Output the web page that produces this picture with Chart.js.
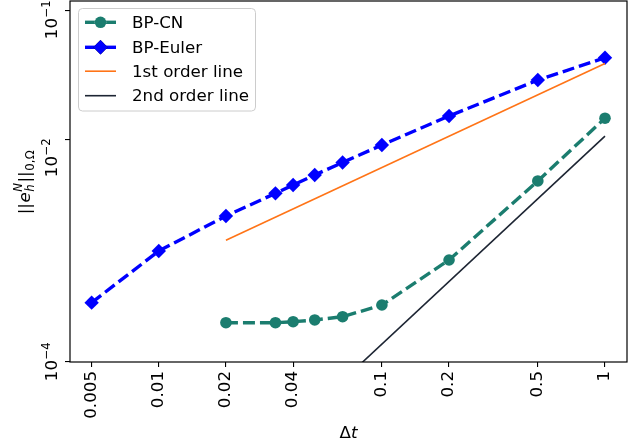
<!DOCTYPE html>
<html>
<head>
<meta charset="utf-8">
<title>Error vs time step</title>
<script src="https://cdn.jsdelivr.net/npm/chart.js@4.4.1/dist/chart.umd.min.js"></script>
<style>
  html, body { margin: 0; padding: 0; background: #ffffff; }
  #wrap { width: 644px; height: 447px; }
</style>
</head>
<body>
<div id="wrap"><canvas id="chart" width="644" height="447"></canvas></div>
<script>
// Time steps and errors of the two schemes
const dtEuler  = [0.005, 0.01, 0.02, 1/30, 0.04, 0.05, 1/15, 0.1, 0.2, 0.5, 1];
const errEuler = [2.73e-4, 8.57e-4, 1.86e-3, 3.07e-3, 3.69e-3, 4.61e-3, 6.08e-3, 8.95e-3, 1.70e-2, 3.77e-2, 6.18e-2];

const dtCN  = [0.02, 1/30, 0.04, 0.05, 1/15, 0.1, 0.2, 0.5, 1];
const errCN = [1.75e-4, 1.75e-4, 1.79e-4, 1.86e-4, 2.00e-4, 2.59e-4, 7.02e-4, 4.04e-3, 1.62e-2];

// Reference slopes (end points)
const dtRef     = [0.02, 1];
const firstRef  = [1.088e-3, 5.44e-2];
const secondRef = [4.36e-6, 1.09e-2];

// Axis ticks
const xTicks      = [0.005, 0.01, 0.02, 0.04, 0.1, 0.2, 0.5, 1];
const xTickLabels = ['0.005', '0.01', '0.02', '0.04', '0.1', '0.2', '0.5', '1'];
const yTicks      = [0.1739, 0.01, 7.335e-5];
const yTickExp    = ['\u22121', '\u22122', '\u22124'];

const FONT = "'DejaVu Sans', sans-serif";
const FS = 16.7;
const TEAL = '#1b7d6f';
const BLUE = '#0000ff';
const ORANGE = '#ff7417';
const DARK = '#1d2533';

const pts = (xs, ys) => xs.map((x, i) => ({ x: x, y: ys[i] }));

// Boxed axes outline
const framePlugin = {
  id: 'frame',
  afterDatasetsDraw(chart) {
    const { ctx, chartArea: a } = chart;
    ctx.save();
    ctx.strokeStyle = '#000';
    ctx.lineWidth = 1.2;
    ctx.strokeRect(a.left, a.top, a.right - a.left, a.bottom - a.top);
    ctx.restore();
  }
};

// Rotated power-of-ten labels on the y axis and the two axis titles
const textPlugin = {
  id: 'texts',
  afterDraw(chart) {
    const { ctx } = chart;
    ctx.save();
    ctx.fillStyle = '#000';
    ctx.textBaseline = 'alphabetic';
    const centers = [20, 158, 362];
    yTickExp.forEach((ex, i) => {
      ctx.save();
      ctx.translate(57, centers[i]);
      ctx.rotate(-Math.PI / 2);
      ctx.font = FS + 'px ' + FONT;
      const wBase = ctx.measureText('10').width;
      ctx.font = (FS * 0.7) + 'px ' + FONT;
      const wExp = ctx.measureText(ex).width;
      const start = -(wBase + wExp) / 2;
      ctx.font = FS + 'px ' + FONT;
      ctx.fillText('10', start, 0);
      ctx.font = (FS * 0.7) + 'px ' + FONT;
      ctx.fillText(ex, start + wBase + 0.5, -FS * 0.42);
      ctx.restore();
    });

    // x title: Δt
    ctx.font = FS + 'px ' + FONT;
    const wD = ctx.measureText('\u0394').width;
    ctx.font = 'italic ' + FS + 'px ' + FONT;
    const wT = ctx.measureText('t').width;
    const cx = (chart.chartArea.left + chart.chartArea.right) / 2;
    const x0 = cx - (wD + wT) / 2;
    ctx.font = FS + 'px ' + FONT;
    ctx.fillText('\u0394', x0, 438);
    ctx.font = 'italic ' + FS + 'px ' + FONT;
    ctx.fillText('t', x0 + wD, 438);

    // y title: ||e_h^N||_{0,Ω}
    ctx.save();
    ctx.translate(30, 182);
    ctx.rotate(-Math.PI / 2);
    const big = FS + 'px ' + FONT;
    const bigI = 'italic ' + FS + 'px ' + FONT;
    const sm = (FS * 0.7) + 'px ' + FONT;
    const smI = 'italic ' + (FS * 0.7) + 'px ' + FONT;
    const parts = [
      { t: '||', f: big, dy: 0 },
      { t: 'e', f: bigI, dy: 0 },
      { t: 'h', f: smI, dy: FS * 0.22, stackWith: { t: 'N', f: smI, dy: -FS * 0.45 } },
      { t: '||', f: big, dy: 0 },
      { t: '0,', f: sm, dy: FS * 0.22 },
      { t: '\u03A9', f: sm, dy: FS * 0.22 }
    ];
    let total = 0;
    const widths = parts.map(p => {
      ctx.font = p.f;
      let w = ctx.measureText(p.t).width;
      if (p.stackWith) {
        ctx.font = p.stackWith.f;
        w = Math.max(w, ctx.measureText(p.stackWith.t).width);
      }
      total += w + 0.5;
      return w;
    });
    let px = -total / 2;
    parts.forEach((p, i) => {
      ctx.font = p.f;
      ctx.fillText(p.t, px, p.dy);
      if (p.stackWith) {
        ctx.font = p.stackWith.f;
        ctx.fillText(p.stackWith.t, px, p.stackWith.dy);
      }
      px += widths[i] + 0.5;
    });
    ctx.restore();
    ctx.restore();
  }
};

// Legend box in the upper left of the plotting area
const legendPlugin = {
  id: 'boxLegend',
  afterDraw(chart) {
    const { ctx } = chart;
    const box = { x: 78.5, y: 8.5, w: 177, h: 102.5, r: 4 };
    ctx.save();
    ctx.beginPath();
    ctx.moveTo(box.x + box.r, box.y);
    ctx.arcTo(box.x + box.w, box.y, box.x + box.w, box.y + box.h, box.r);
    ctx.arcTo(box.x + box.w, box.y + box.h, box.x, box.y + box.h, box.r);
    ctx.arcTo(box.x, box.y + box.h, box.x, box.y, box.r);
    ctx.arcTo(box.x, box.y, box.x + box.w, box.y, box.r);
    ctx.closePath();
    ctx.fillStyle = 'rgba(255,255,255,0.8)';
    ctx.fill();
    ctx.strokeStyle = '#cccccc';
    ctx.lineWidth = 1;
    ctx.stroke();

    const rows = [22.3, 47.3, 71.2, 95.7];
    chart.data.datasets.forEach((ds, i) => {
      const yy = rows[i];
      ctx.beginPath();
      ctx.strokeStyle = ds.borderColor;
      ctx.lineWidth = ds.borderWidth;
      ctx.setLineDash([]);
      ctx.moveTo(85, yy);
      ctx.lineTo(116, yy);
      ctx.stroke();
      if (ds.pointRadius > 0) {
        Chart.helpers.drawPoint(ctx, {
          pointStyle: ds.pointStyle, radius: ds.pointRadius, borderWidth: 0, rotation: 0
        }, 100.5, yy);
        ctx.fillStyle = ds.backgroundColor;
        ctx.fill();
      }
      ctx.fillStyle = '#000';
      ctx.font = FS + 'px ' + FONT;
      ctx.textBaseline = 'middle';
      ctx.fillText(ds.label, 132, yy + 1);
    });
    ctx.restore();
  }
};

const tickGrid = { drawOnChartArea: false, drawTicks: true, tickLength: 5, color: '#000', lineWidth: 1.1 };

new Chart(document.getElementById('chart').getContext('2d'), {
  type: 'line',
  data: {
    datasets: [
      {
        label: 'BP-CN', data: pts(dtCN, errCN),
        borderColor: TEAL, backgroundColor: TEAL, borderWidth: 3.4, borderDash: [12, 5],
        pointStyle: 'circle', pointRadius: 5.8, pointBorderWidth: 0, tension: 0, order: 4
      },
      {
        label: 'BP-Euler', data: pts(dtEuler, errEuler),
        borderColor: BLUE, backgroundColor: BLUE, borderWidth: 3.4, borderDash: [12, 5],
        pointStyle: 'rectRot', pointRadius: 7.2, pointBorderWidth: 0, tension: 0, order: 3
      },
      {
        label: '1st order line', data: pts(dtRef, firstRef),
        borderColor: ORANGE, backgroundColor: ORANGE, borderWidth: 1.6,
        pointRadius: 0, tension: 0, order: 2
      },
      {
        label: '2nd order line', data: pts(dtRef, secondRef),
        borderColor: DARK, backgroundColor: DARK, borderWidth: 1.6,
        pointRadius: 0, tension: 0, order: 1
      }
    ]
  },
  options: {
    responsive: false,
    animation: false,
    devicePixelRatio: 1,
    layout: { autoPadding: false, padding: { left: 0, right: 17, top: 1, bottom: 0 } },
    plugins: { legend: { display: false }, tooltip: { enabled: false } },
    scales: {
      x: {
        type: 'logarithmic', min: 0.004, max: 1.255, bounds: 'data',
        afterBuildTicks: s => { s.ticks = xTicks.map(v => ({ value: v })); },
        afterFit: s => { s.height = 85; },
        ticks: {
          autoSkip: false, minRotation: 90, maxRotation: 90, padding: 4,
          color: '#000', font: { family: FONT, size: FS },
          callback: (v, i) => xTickLabels[i]
        },
        grid: tickGrid,
        border: { display: false }
      },
      y: {
        type: 'logarithmic', min: 7.335e-5, max: 0.2170, bounds: 'data',
        afterBuildTicks: s => { s.ticks = yTicks.map(v => ({ value: v })); },
        afterFit: s => { s.width = 70; },
        ticks: { display: false },
        grid: tickGrid,
        border: { display: false }
      }
    }
  },
  plugins: [framePlugin, textPlugin, legendPlugin]
});
</script>
</body>
</html>
